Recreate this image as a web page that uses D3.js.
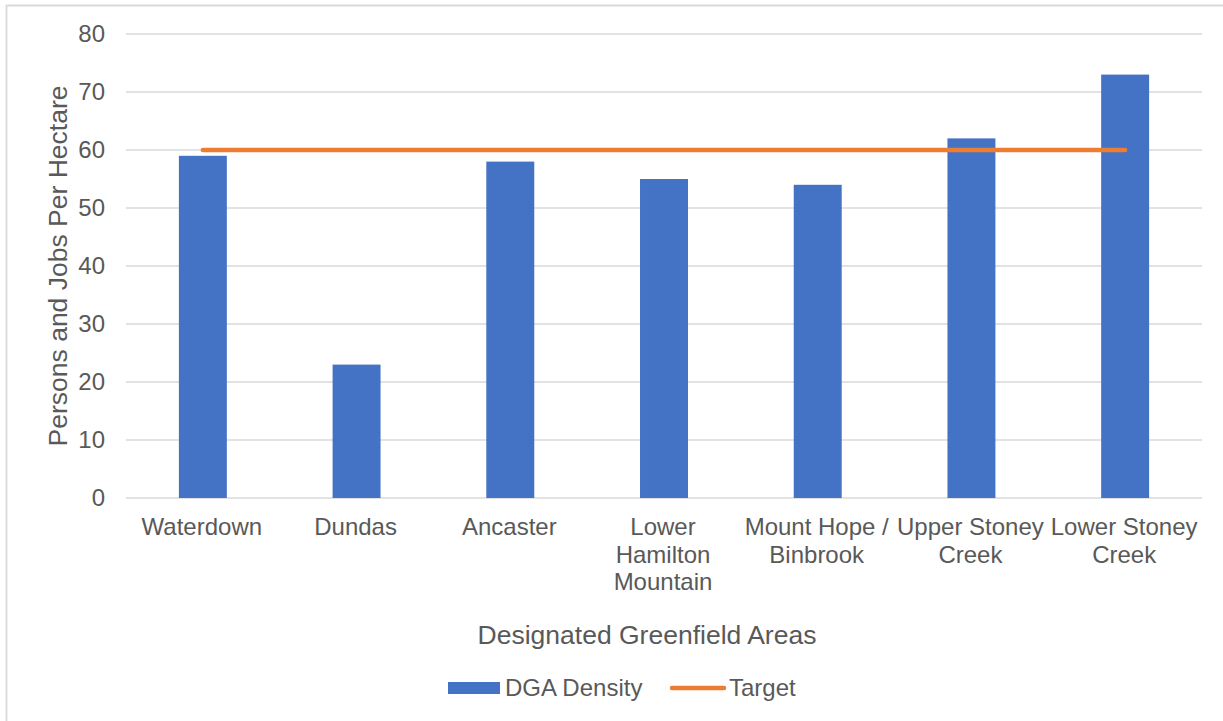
<!DOCTYPE html>
<html>
<head>
<meta charset="utf-8">
<script src="https://cdn.jsdelivr.net/npm/d3@7/dist/d3.min.js"></script>
<style>
  html, body { margin: 0; padding: 0; background: #fff; }
  svg { display: block; font-family: "Liberation Sans", Arial, sans-serif; }
</style>
</head>
<body>
<svg id="chart" width="1223" height="721"></svg>
<script>
// Designated Greenfield Area densities vs. target
const categories = [
  ["Waterdown"],
  ["Dundas"],
  ["Ancaster"],
  ["Lower", "Hamilton", "Mountain"],
  ["Mount Hope /", "Binbrook"],
  ["Upper Stoney", "Creek"],
  ["Lower Stoney", "Creek"]
];
const dgaDensity = [59, 23, 58, 55, 54, 62, 73];
const target = [60, 60, 60, 60, 60, 60, 60];
const yTicks = [0, 10, 20, 30, 40, 50, 60, 70, 80];

const textColor = "#595959";
const gridColor = "#d9d9d9";
const barColor = "#4472C4";
const lineColor = "#ED7D31";

const svg = d3.select("#chart");

// chart frame (top and left edges)
svg.append("path")
  .attr("d", "M6.5,721 V5.5 H1223")
  .attr("fill", "none")
  .attr("stroke", "#d9d9d9").attr("stroke-width", 1.8);

const plot = { left: 126, right: 1202, top: 34, bottom: 498 };

const keys = categories.map((c, i) => i);
const x = d3.scaleBand()
  .domain(keys)
  .range([plot.left, plot.right])
  .paddingInner(0.688)
  .paddingOuter(0.344);
const xc = d3.scaleBand().domain(keys).range([plot.left, plot.right]);
const y = d3.scaleLinear().domain([0, 80]).range([plot.bottom, plot.top]);

// horizontal gridlines
svg.append("g")
  .selectAll("line")
  .data(yTicks)
  .join("line")
  .attr("x1", plot.left).attr("x2", plot.right)
  .attr("y1", d => y(d)).attr("y2", d => y(d))
  .attr("stroke", gridColor).attr("stroke-width", 1.5);

// y axis labels
const yAxis = d3.axisLeft(y).tickValues(yTicks).tickSize(0).tickPadding(21);
const gy = svg.append("g")
  .attr("transform", `translate(${plot.left},0)`)
  .call(yAxis);
gy.select(".domain").remove();
gy.selectAll("text")
  .attr("fill", textColor)
  .attr("font-size", 24)
  .attr("font-family", "'Liberation Sans', Arial, sans-serif");

// bars
svg.append("g")
  .selectAll("rect")
  .data(dgaDensity)
  .join("rect")
  .attr("x", (d, i) => x(i))
  .attr("width", x.bandwidth())
  .attr("y", d => y(d))
  .attr("height", d => y(0) - y(d))
  .attr("fill", barColor);

// target line
const line = d3.line()
  .x((d, i) => xc(i) + xc.bandwidth() / 2)
  .y(d => y(d));
svg.append("path")
  .datum(target)
  .attr("d", line)
  .attr("fill", "none")
  .attr("stroke", lineColor)
  .attr("stroke-width", 4.5)
  .attr("stroke-linecap", "round");

// category labels (wrapped)
const gx = svg.append("g");
categories.forEach((lines, i) => {
  const t = gx.append("text")
    .attr("x", xc(i) + xc.bandwidth() / 2)
    .attr("y", 535)
    .attr("text-anchor", "middle")
    .attr("fill", textColor)
    .attr("font-size", 24);
  lines.forEach((ln, j) => {
    t.append("tspan")
      .attr("x", xc(i) + xc.bandwidth() / 2 - 1)
      .attr("dy", j === 0 ? 0 : 27.5)
      .text(ln);
  });
});

// axis titles
svg.append("text")
  .attr("x", (plot.left + plot.right) / 2 - 17)
  .attr("y", 644)
  .attr("text-anchor", "middle")
  .attr("fill", textColor)
  .attr("font-size", 26.5)
  .text("Designated Greenfield Areas");

svg.append("text")
  .attr("transform", `translate(67,${(plot.top + plot.bottom) / 2}) rotate(-90)`)
  .attr("text-anchor", "middle")
  .attr("fill", textColor)
  .attr("font-size", 26.5)
  .text("Persons and Jobs Per Hectare");

// legend
const lg = svg.append("g");
lg.append("rect")
  .attr("x", 448).attr("y", 682)
  .attr("width", 52).attr("height", 12)
  .attr("fill", barColor);
lg.append("text")
  .attr("x", 505).attr("y", 696)
  .attr("fill", textColor).attr("font-size", 24)
  .text("DGA Density");
lg.append("line")
  .attr("x1", 672).attr("x2", 724)
  .attr("y1", 688).attr("y2", 688)
  .attr("stroke", lineColor).attr("stroke-width", 4.5)
  .attr("stroke-linecap", "round");
lg.append("text")
  .attr("x", 729).attr("y", 696)
  .attr("fill", textColor).attr("font-size", 24)
  .text("Target");
</script>
</body>
</html>
